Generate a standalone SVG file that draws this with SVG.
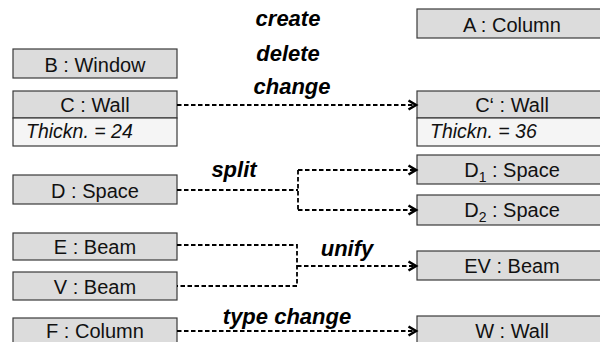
<svg xmlns="http://www.w3.org/2000/svg" width="600" height="342" viewBox="0 0 600 342">
  <style>
    .box { fill: #dcdcdc; stroke: #3a3a3a; stroke-width: 1.2; }
    .attr { fill: #f5f5f5; stroke: #3a3a3a; stroke-width: 1.2; }
    .name { font-family: "Liberation Sans", Arial, sans-serif; font-size: 20px; fill: #111; text-anchor: middle; }
    .val { font-family: "Liberation Sans", Arial, sans-serif; font-size: 19.5px; font-style: italic; fill: #111; }
    .op { font-family: "Liberation Sans", Arial, sans-serif; font-size: 22px; font-weight: bold; font-style: italic; fill: #000; text-anchor: middle; }
    .link { fill: none; stroke: #000; stroke-width: 1.8; stroke-dasharray: 4.5 2.5; }
    .arrow { fill: none; stroke: #000; stroke-width: 1.8; stroke-dasharray: 4.5 2.5; marker-end: url(#chev); }
    .head { fill: none; stroke: #000; stroke-width: 2.6; stroke-dasharray: none; stroke-linejoin: miter; }
  </style>
  <defs>
    <marker id="chev" markerUnits="userSpaceOnUse" markerWidth="14" markerHeight="14" refX="9" refY="6" orient="auto">
      <path class="head" d="M1.5,1.5 L9,6 L1.5,10.5"/>
    </marker>
  </defs>

  <!-- operation labels -->
  <g id="labels">
    <text class="op" x="288" y="26">create</text>
    <text class="op" x="288" y="61">delete</text>
    <text class="op" x="292" y="94">change</text>
    <text class="op" x="234" y="177">split</text>
    <text class="op" x="347" y="256">unify</text>
    <text class="op" x="287" y="324">type change</text>
  </g>

  <!-- left-hand objects -->
  <g id="B">
    <rect class="box" x="13" y="49" width="164" height="29"/>
    <text class="name" x="95" y="72">B : Window</text>
  </g>
  <g id="C">
    <rect class="box" x="13" y="91" width="164" height="27"/>
    <rect class="attr" x="13" y="118" width="164" height="28"/>
    <text class="name" x="95" y="112">C : Wall</text>
    <text class="val" x="26" y="138">Thickn. = 24</text>
  </g>
  <g id="D">
    <rect class="box" x="13" y="175" width="164" height="29"/>
    <text class="name" x="95" y="198">D : Space</text>
  </g>
  <g id="E">
    <rect class="box" x="13" y="233" width="164" height="27"/>
    <text class="name" x="95" y="254">E : Beam</text>
  </g>
  <g id="V">
    <rect class="box" x="13" y="272" width="164" height="28"/>
    <text class="name" x="95" y="294">V : Beam</text>
  </g>
  <g id="F">
    <rect class="box" x="13" y="318" width="164" height="30"/>
    <text class="name" x="95" y="338">F : Column</text>
  </g>

  <!-- right-hand objects -->
  <g id="A">
    <rect class="box" x="417" y="9" width="195" height="29"/>
    <text class="name" x="512" y="32">A : Column</text>
  </g>
  <g id="C2">
    <rect class="box" x="417" y="91" width="195" height="27"/>
    <rect class="attr" x="417" y="118" width="195" height="28"/>
    <text class="name" x="512" y="112">C‘ : Wall</text>
    <text class="val" x="430" y="138">Thickn. = 36</text>
  </g>
  <g id="D1">
    <rect class="box" x="417" y="155" width="195" height="29"/>
    <text class="name" x="512" y="177">D<tspan font-size="14" dy="5">1</tspan><tspan dy="-5"> : Space</tspan></text>
  </g>
  <g id="D2">
    <rect class="box" x="417" y="195" width="195" height="30"/>
    <text class="name" x="512" y="217">D<tspan font-size="14" dy="5">2</tspan><tspan dy="-5"> : Space</tspan></text>
  </g>
  <g id="EV">
    <rect class="box" x="417" y="251" width="195" height="29"/>
    <text class="name" x="512" y="273">EV : Beam</text>
  </g>
  <g id="W">
    <rect class="box" x="417" y="316" width="195" height="32"/>
    <text class="name" x="512" y="338">W : Wall</text>
  </g>

  <!-- connectors -->
  <g id="connectors">
    <path class="arrow" d="M177,105 H416"/>
    <path class="link" d="M177,190 H298 M298,170 V210"/>
    <path class="arrow" d="M298,170 H416"/>
    <path class="arrow" d="M298,210 H416"/>
    <path class="link" d="M177,245 H297 V286 H177"/>
    <path class="arrow" d="M297,266 H416"/>
    <path class="arrow" d="M177,331 H416"/>
  </g>
</svg>
